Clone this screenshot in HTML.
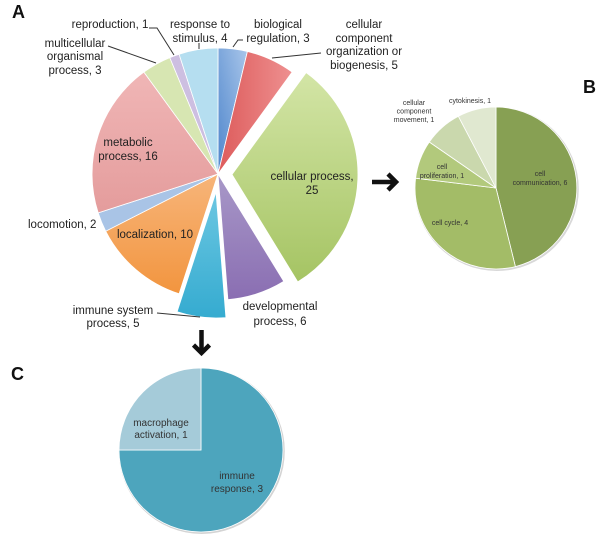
<!DOCTYPE html>
<html>
<head>
<meta charset="utf-8">
<style>
  html,body{margin:0;padding:0;background:#fff;}
  svg{display:block;}
  text{font-family:"Liberation Sans",Arial,sans-serif;}
  .a{font-size:11.5px;fill:#222;}
  .b{font-size:7px;fill:#333;}
  .c{font-size:10px;fill:#333;}
  .big{font-size:18px;font-weight:bold;fill:#111;}
</style>
</head>
<body>
<svg width="600" height="538" viewBox="0 0 600 538" xmlns="http://www.w3.org/2000/svg">
  <defs>
    <linearGradient id="gGreen" x1="0" y1="0" x2="0" y2="1">
      <stop offset="0" stop-color="#d3e5a6"/><stop offset="1" stop-color="#a5c463"/>
    </linearGradient>
    <linearGradient id="gPink" x1="0" y1="0" x2="0" y2="1">
      <stop offset="0" stop-color="#f0b6b6"/><stop offset="1" stop-color="#e49c9c"/>
    </linearGradient>
    <linearGradient id="gOrange" x1="0" y1="0" x2="0" y2="1">
      <stop offset="0" stop-color="#f7b57a"/><stop offset="1" stop-color="#f2953f"/>
    </linearGradient>
    <linearGradient id="gCyan" x1="0" y1="0" x2="0" y2="1">
      <stop offset="0" stop-color="#6cc7e2"/><stop offset="1" stop-color="#35abd0"/>
    </linearGradient>
    <linearGradient id="gPurple" x1="0" y1="0" x2="0" y2="1">
      <stop offset="0" stop-color="#a898c8"/><stop offset="1" stop-color="#8a6eb2"/>
    </linearGradient>
    <linearGradient id="gRed" x1="0" y1="0" x2="1" y2="0">
      <stop offset="0" stop-color="#dd5b5b"/><stop offset="1" stop-color="#ee9090"/>
    </linearGradient>
    <linearGradient id="gBlue" x1="0" y1="1" x2="1" y2="0">
      <stop offset="0" stop-color="#4f86cc"/><stop offset="1" stop-color="#a9c6ea"/>
    </linearGradient>
  </defs>

  <!-- Panel labels -->
  <text class="big" x="12" y="18">A</text>
  <text class="big" x="583" y="93">B</text>
  <text class="big" x="11" y="380">C</text>

  <!-- Pie A (center 218,174 r 126) -->
  <g stroke="#fff" stroke-width="0.8">
    <!-- biological regulation 0-13.5 -->
    <path d="M218,174 L218,48 A126,126 0 0 1 247.4,51.5 Z" fill="url(#gBlue)"/>
    <!-- cellular component org 13.5-36 -->
    <path d="M218,174 L247.4,51.5 A126,126 0 0 1 292.1,72.1 Z" fill="url(#gRed)"/>
    <!-- developmental 148.5-175.5 -->
    <path d="M218,174 L283.8,281.4 A126,126 0 0 1 227.9,299.6 Z" fill="url(#gPurple)"/>
    <!-- localization 198-243 -->
    <path d="M218,174 L179.1,293.8 A126,126 0 0 1 105.7,231.2 Z" fill="url(#gOrange)"/>
    <!-- locomotion 243-252 -->
    <path d="M218,174 L105.7,231.2 A126,126 0 0 1 98.2,212.9 Z" fill="#a9c4e6"/>
    <!-- metabolic 252-324 -->
    <path d="M218,174 L98.2,212.9 A126,126 0 0 1 143.9,72.1 Z" fill="url(#gPink)"/>
    <!-- multicellular 324-337.5 -->
    <path d="M218,174 L143.9,72.1 A126,126 0 0 1 169.8,57.6 Z" fill="#d7e6b2"/>
    <!-- reproduction 337.5-342 -->
    <path d="M218,174 L169.8,57.6 A126,126 0 0 1 179.1,54.2 Z" fill="#cdbfe1"/>
    <!-- response to stimulus 342-360 -->
    <path d="M218,174 L179.1,54.2 A126,126 0 0 1 218,48 Z" fill="#b5def0"/>
    <!-- cellular process (exploded) -->
    <path d="M232,174.5 L306.1,72.6 A126,126 0 0 1 297.8,281.9 Z" fill="url(#gGreen)"/>
    <!-- immune system process (exploded) -->
    <path d="M216,192 L225.9,317.6 A126,126 0 0 1 177.1,311.8 Z" fill="url(#gCyan)"/>
  </g>

  <!-- Pie A leader lines -->
  <g stroke="#333" stroke-width="1" fill="none">
    <polyline points="108,46 156,63"/>
    <polyline points="149,28 157,28 174,55"/>
    <polyline points="199,43 199,49"/>
    <polyline points="243,40 238,40 233,47"/>
    <polyline points="321,53 272,58"/>
    <polyline points="157,313 200,317"/>
  </g>

  <!-- Pie A labels -->
  <g class="a" text-anchor="middle">
    <text x="110" y="28">reproduction, 1</text>
    <text x="200" y="28">response to</text>
    <text x="200" y="42">stimulus, 4</text>
    <text x="278" y="28">biological</text>
    <text x="278" y="42">regulation, 3</text>
    <text x="364" y="28">cellular</text>
    <text x="364" y="42">component</text>
    <text x="364" y="55">organization or</text>
    <text x="364" y="69">biogenesis, 5</text>
    <text x="75" y="47">multicellular</text>
    <text x="75" y="60">organismal</text>
    <text x="75" y="74">process, 3</text>
    <text x="128" y="146">metabolic</text>
    <text x="128" y="160">process, 16</text>
    <text x="312" y="180">cellular process,</text>
    <text x="312" y="194">25</text>
    <text x="155" y="238">localization, 10</text>
    <text x="113" y="314">immune system</text>
    <text x="113" y="327">process, 5</text>
    <text x="280" y="310">developmental</text>
    <text x="280" y="325">process, 6</text>
  </g>
  <text class="a" x="28" y="228">locomotion, 2</text>

  <!-- Arrows -->
  <g stroke="#111" stroke-width="4.5" fill="none" stroke-linejoin="miter">
    <line x1="372" y1="182" x2="394" y2="182"/>
    <polyline points="388,174 396,182 388,190"/>
    <line x1="201.5" y1="330" x2="201.5" y2="352"/>
    <polyline points="193.5,345 201.5,353 209.5,345"/>
  </g>

  <!-- Pie B (center 496,188 r 81) -->
  <circle cx="496.8" cy="189" r="82" fill="#d8d8d8"/>
  <g stroke="#fff" stroke-width="0.8">
    <path d="M496,188 L496,107 A81,81 0 0 1 515.4,266.6 Z" fill="#87a053"/>
    <path d="M496,188 L515.4,266.6 A81,81 0 0 1 415.6,178.2 Z" fill="#a3bc67"/>
    <path d="M496,188 L415.6,178.2 A81,81 0 0 1 429.3,142.0 Z" fill="#b2c97c"/>
    <path d="M496,188 L429.3,142.0 A81,81 0 0 1 458.4,116.3 Z" fill="#cad8ad"/>
    <path d="M496,188 L458.4,116.3 A81,81 0 0 1 496,107 Z" fill="#e0e8d0"/>
  </g>
  <g class="b" text-anchor="middle">
    <text x="414" y="105">cellular</text>
    <text x="414" y="113.5">component</text>
    <text x="414" y="122">movement, 1</text>
    <text x="470" y="103">cytokinesis, 1</text>
    <text x="442" y="169">cell</text>
    <text x="442" y="178">proliferation, 1</text>
    <text x="540" y="176">cell</text>
    <text x="540" y="185">communication, 6</text>
    <text x="450" y="225">cell cycle, 4</text>
  </g>

  <!-- Pie C (center 201,450 r 82) -->
  <circle cx="201.8" cy="451" r="83" fill="#d4d4d4"/>
  <g stroke="#fff" stroke-width="0.8">
    <path d="M201,450 L201,368 A82,82 0 1 1 119,450 Z" fill="#4da5bd"/>
    <path d="M201,450 L119,450 A82,82 0 0 1 201,368 Z" fill="#a5cbd9"/>
  </g>
  <g class="c" text-anchor="middle">
    <text x="161" y="426">macrophage</text>
    <text x="161" y="438">activation, 1</text>
    <text x="237" y="479">immune</text>
    <text x="237" y="492">response, 3</text>
  </g>
</svg>
</body>
</html>
